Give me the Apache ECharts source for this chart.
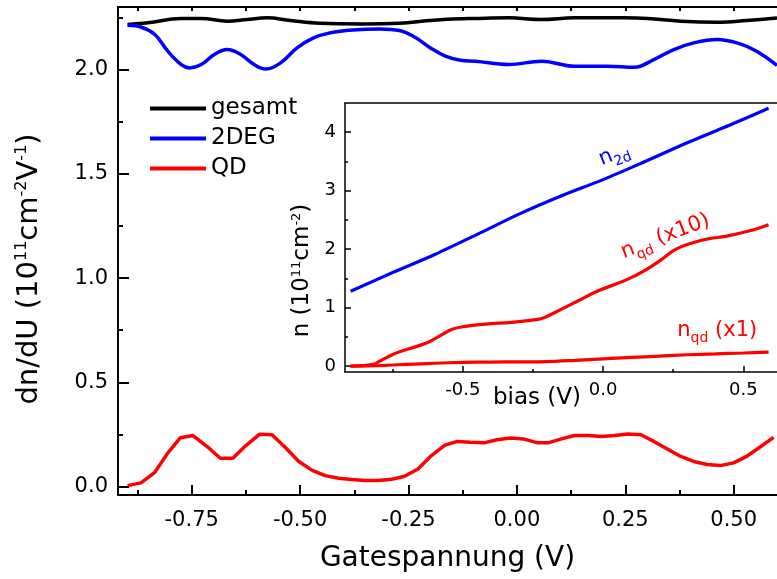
<!DOCTYPE html>
<html>
<head>
<meta charset="utf-8">
<script src="https://cdn.jsdelivr.net/npm/echarts@6/dist/echarts.min.js"></script>
<style>
  html, body { margin: 0; padding: 0; background: #fff; }
  #main { width: 777px; height: 579px; }
</style>
</head>
<body>
<div id="main"></div>
<script>
// main plot: dn/dU vs gate voltage
var blackX = [-0.898, -0.851, -0.774, -0.728, -0.668, -0.622, -0.576, -0.522, -0.454, -0.355, -0.271, -0.202, -0.16, -0.095, -0.019, 0.057, 0.133, 0.248, 0.301, 0.378, 0.462, 0.53, 0.6];
var blackY = [2.216, 2.224, 2.245, 2.245, 2.232, 2.240, 2.248, 2.235, 2.222, 2.219, 2.222, 2.235, 2.241, 2.245, 2.248, 2.240, 2.248, 2.248, 2.245, 2.232, 2.227, 2.235, 2.247];

var blueX = [-0.898, -0.866, -0.835, -0.805, -0.774, -0.755, -0.728, -0.698, -0.668, -0.637, -0.606, -0.580, -0.545, -0.507, -0.469, -0.431, -0.378, -0.316, -0.271, -0.235, -0.2, -0.165, -0.13, -0.095, -0.019, 0.057, 0.133, 0.21, 0.271, 0.316, 0.362, 0.408, 0.462, 0.515, 0.553, 0.6];
var blueY = [2.212, 2.203, 2.168, 2.088, 2.024, 2.008, 2.024, 2.072, 2.096, 2.072, 2.024, 2.003, 2.032, 2.104, 2.152, 2.176, 2.190, 2.195, 2.187, 2.155, 2.105, 2.065, 2.045, 2.040, 2.024, 2.040, 2.016, 2.016, 2.011, 2.048, 2.096, 2.128, 2.144, 2.123, 2.088, 2.020];

var redX = [-0.898, -0.867, -0.835, -0.805, -0.776, -0.747, -0.713, -0.684, -0.655, -0.625, -0.594, -0.565, -0.535, -0.503, -0.472, -0.442, -0.411, -0.381, -0.35, -0.32, -0.289, -0.259, -0.228, -0.197, -0.166, -0.137, -0.107, -0.076, -0.046, -0.015, 0.015, 0.046, 0.072, 0.103, 0.133, 0.164, 0.195, 0.225, 0.256, 0.286, 0.316, 0.347, 0.378, 0.408, 0.439, 0.469, 0.5, 0.53, 0.561, 0.592];
var redY = [0.005, 0.018, 0.069, 0.162, 0.235, 0.245, 0.19, 0.136, 0.136, 0.197, 0.251, 0.249, 0.19, 0.121, 0.078, 0.053, 0.04, 0.034, 0.03, 0.03, 0.035, 0.05, 0.085, 0.149, 0.199, 0.217, 0.213, 0.21, 0.225, 0.233, 0.229, 0.211, 0.21, 0.229, 0.245, 0.245, 0.241, 0.245, 0.253, 0.249, 0.217, 0.181, 0.145, 0.121, 0.106, 0.101, 0.114, 0.145, 0.19, 0.236];

// inset: n vs bias
var n2dX = [-0.9, -0.75, -0.6, -0.45, -0.3, -0.15, 0.0, 0.15, 0.3, 0.45, 0.59];
var n2dY = [1.28, 1.60, 1.91, 2.25, 2.60, 2.91, 3.19, 3.50, 3.82, 4.12, 4.41];

var nqd10X = [-0.9, -0.82, -0.796, -0.75, -0.70, -0.632, -0.585, -0.538, -0.491, -0.42, -0.326, -0.233, -0.21, -0.15, -0.092, -0.021, 0.085, 0.143, 0.202, 0.26, 0.32, 0.378, 0.437, 0.519, 0.59];
var nqd10Y = [0.0, 0.03, 0.085, 0.2, 0.285, 0.39, 0.51, 0.63, 0.68, 0.72, 0.75, 0.80, 0.83, 0.97, 1.11, 1.28, 1.48, 1.62, 1.80, 2.0, 2.11, 2.18, 2.22, 2.31, 2.42];

var nqd1X = [-0.9, -0.8, -0.7, -0.6, -0.5, -0.4, -0.3, -0.2, -0.1, 0.0, 0.1, 0.2, 0.3, 0.4, 0.5, 0.59];
var nqd1Y = [0.0, 0.01, 0.03, 0.05, 0.065, 0.07, 0.073, 0.078, 0.1, 0.125, 0.15, 0.17, 0.195, 0.21, 0.225, 0.24];

// ticks
var mainXMajor = [-0.75, -0.5, -0.25, 0, 0.25, 0.5];
var mainXMinor = [-0.875, -0.625, -0.375, -0.125, 0.125, 0.375];
var mainYMajor = [0, 0.5, 1.0, 1.5, 2.0];
var mainYMinor = [0.25, 0.75, 1.25, 1.75, 2.25];
var insetXMajor = [-0.5, 0, 0.5];
var insetXMinor = [-0.75, -0.25, 0.25];
var insetYMajor = [0, 1, 2, 3, 4];
var insetYMinor = [0.5, 1.5, 2.5, 3.5];

var FONT = 'DejaVu Sans';

function pairs(xs, ys) {
  return xs.map(function (x, i) { return [x, ys[i]]; });
}

function tickAxis(opt) {
  var a = {
    type: 'value',
    gridIndex: opt.grid,
    position: opt.position,
    min: opt.min,
    max: opt.max,
    splitLine: { show: false },
    axisLine: { show: opt.line !== false, onZero: false, lineStyle: { color: '#000', width: opt.lw || 2 } },
    axisTick: { show: true, inside: true, length: opt.len, customValues: opt.ticks, lineStyle: { color: '#000', width: opt.tw || 2 } },
    axisLabel: { show: false }
  };
  if (opt.labels) {
    a.axisLabel = {
      show: true,
      customValues: opt.ticks,
      margin: opt.margin,
      color: '#000',
      fontFamily: FONT,
      fontSize: opt.fontSize,
      formatter: opt.fmt
    };
  }
  return a;
}

var chart = echarts.init(document.getElementById('main'), null, { renderer: 'canvas' });

var option = {
  backgroundColor: '#fff',
  animation: false,
  grid: [
    { left: 118, top: 7, right: -5, bottom: 84, show: false },
    { left: 345, top: 103, right: -5, bottom: 207, show: true, backgroundColor: '#fff', borderWidth: 0 }
  ],
  legend: {
    data: ['gesamt', '2DEG', 'QD'],
    orient: 'vertical',
    left: 150,
    top: 97,
    padding: 0,
    icon: 'rect',
    itemWidth: 56,
    itemHeight: 4,
    itemGap: 7,
    textStyle: { fontFamily: FONT, fontSize: 23, color: '#000' }
  },
  xAxis: [
    Object.assign(tickAxis({ grid: 0, position: 'bottom', min: -0.92, max: 0.6, len: 10, ticks: mainXMajor, labels: true, margin: 15, fontSize: 21,
      fmt: function (v) { return v.toFixed(2); } }), {
      name: 'Gatespannung (V)', nameLocation: 'middle', nameGap: 50, nameMoveOverlap: false,
      nameTextStyle: { fontFamily: FONT, fontSize: 28, color: '#000' }
    }),
    tickAxis({ grid: 0, position: 'bottom', min: -0.92, max: 0.6, len: 5, ticks: mainXMinor, line: false }),
    tickAxis({ grid: 0, position: 'top', min: -0.92, max: 0.6, len: 4, ticks: mainXMajor.concat(mainXMinor) }),
    Object.assign(tickAxis({ grid: 1, position: 'bottom', min: -0.92, max: 0.62, len: 6, lw: 1.5, tw: 1.5, ticks: insetXMajor, labels: true, margin: 9, fontSize: 18,
      fmt: function (v) { return v.toFixed(1); } }), {
      name: 'bias (V)', nameLocation: 'middle', nameGap: 15, nameMoveOverlap: false,
      nameTextStyle: { fontFamily: FONT, fontSize: 23, color: '#000', padding: [0, 48, 0, 0] }
    }),
    tickAxis({ grid: 1, position: 'bottom', min: -0.92, max: 0.62, len: 3, tw: 1.5, ticks: insetXMinor, line: false }),
    tickAxis({ grid: 1, position: 'top', min: -0.92, max: 0.62, len: 0, lw: 1.5, ticks: [] })
  ],
  yAxis: [
    Object.assign(tickAxis({ grid: 0, position: 'left', min: -0.04, max: 2.3, len: 11, ticks: mainYMajor, labels: true, margin: 10, fontSize: 21,
      fmt: function (v) { return v.toFixed(1); } }), {
      name: '{t|dn/dU (10}{s|11}{t|cm}{s|-2}{t|V}{s|-1}{t|)}', nameLocation: 'middle', nameGap: 74,
      nameTextStyle: {
        color: '#000', padding: [0, 36, 0, 0],
        rich: {
          t: { fontFamily: FONT, fontSize: 29, color: '#000' },
          s: { fontFamily: FONT, fontSize: 16, color: '#000', padding: [0, 0, 14, 0] }
        }
      }
    }),
    tickAxis({ grid: 0, position: 'left', min: -0.04, max: 2.3, len: 5, ticks: mainYMinor, line: false }),
    Object.assign(tickAxis({ grid: 1, position: 'left', min: -0.1, max: 4.5, len: 6, lw: 1.5, tw: 1.5, ticks: insetYMajor, labels: true, margin: 9, fontSize: 18,
      fmt: function (v) { return String(v); } }), {
      name: '{t|n (10}{s|11}{t|cm}{s|-2}{t|)}', nameLocation: 'middle', nameGap: 28,
      nameTextStyle: {
        color: '#000', padding: [0, 66, 0, 0],
        rich: {
          t: { fontFamily: FONT, fontSize: 23, color: '#000' },
          s: { fontFamily: FONT, fontSize: 13, color: '#000', padding: [0, 0, 12, 0] }
        }
      }
    }),
    tickAxis({ grid: 1, position: 'left', min: -0.1, max: 4.5, len: 3, tw: 1.5, ticks: insetYMinor, line: false })
  ],
  series: [
    { name: 'gesamt', type: 'line', xAxisIndex: 0, yAxisIndex: 0, symbol: 'none', smooth: 0.4,
      color: '#000', lineStyle: { color: '#000', width: 3.5 }, data: pairs(blackX, blackY) },
    { name: '2DEG', type: 'line', xAxisIndex: 0, yAxisIndex: 0, symbol: 'none', smooth: 0.4,
      color: '#0000ff', lineStyle: { color: '#0000ff', width: 3.5 }, data: pairs(blueX, blueY) },
    { name: 'QD', type: 'line', xAxisIndex: 0, yAxisIndex: 0, symbol: 'none', smooth: false,
      color: '#ff0000', lineStyle: { color: '#ff0000', width: 3.5 }, data: pairs(redX, redY) },
    { name: 'n2d', type: 'line', xAxisIndex: 3, yAxisIndex: 2, symbol: 'none', smooth: 0.3,
      lineStyle: { color: '#0000ff', width: 3.2 }, data: pairs(n2dX, n2dY) },
    { name: 'nqd10', type: 'line', xAxisIndex: 3, yAxisIndex: 2, symbol: 'none', smooth: 0.4,
      lineStyle: { color: '#ff0000', width: 3.2 }, data: pairs(nqd10X, nqd10Y) },
    { name: 'nqd1', type: 'line', xAxisIndex: 3, yAxisIndex: 2, symbol: 'none', smooth: 0.3,
      lineStyle: { color: '#ff0000', width: 3.2 }, data: pairs(nqd1X, nqd1Y) }
  ]
};

chart.setOption(option);

// curve labels in the inset, anchored in bias / n coordinates
var notes = [
  { at: [0.039, 3.62], rot: 22, color: '#0000ff', text: '{n|n}{b|2d}' },
  { at: [0.222, 2.22], rot: 21, color: '#ff0000', text: '{n|n}{b|qd}{n| (x10)}' },
  { at: [0.407, 0.61], rot: 0, color: '#ff0000', text: '{n|n}{b|qd}{n| (x1)}' }
];

var graphics = notes.map(function (nt) {
  var p = chart.convertToPixel({ xAxisIndex: 3, yAxisIndex: 2 }, nt.at);
  return {
    type: 'text',
    x: p[0],
    y: p[1],
    rotation: nt.rot * Math.PI / 180,
    z: 100,
    style: {
      text: nt.text,
      fill: nt.color,
      align: 'center',
      verticalAlign: 'middle',
      rich: {
        n: { fontFamily: FONT, fontSize: 21, fill: nt.color },
        b: { fontFamily: FONT, fontSize: 14, fill: nt.color, padding: [16, 0, 0, 0] }
      }
    }
  };
});

chart.setOption({ graphic: graphics });
</script>
</body>
</html>
